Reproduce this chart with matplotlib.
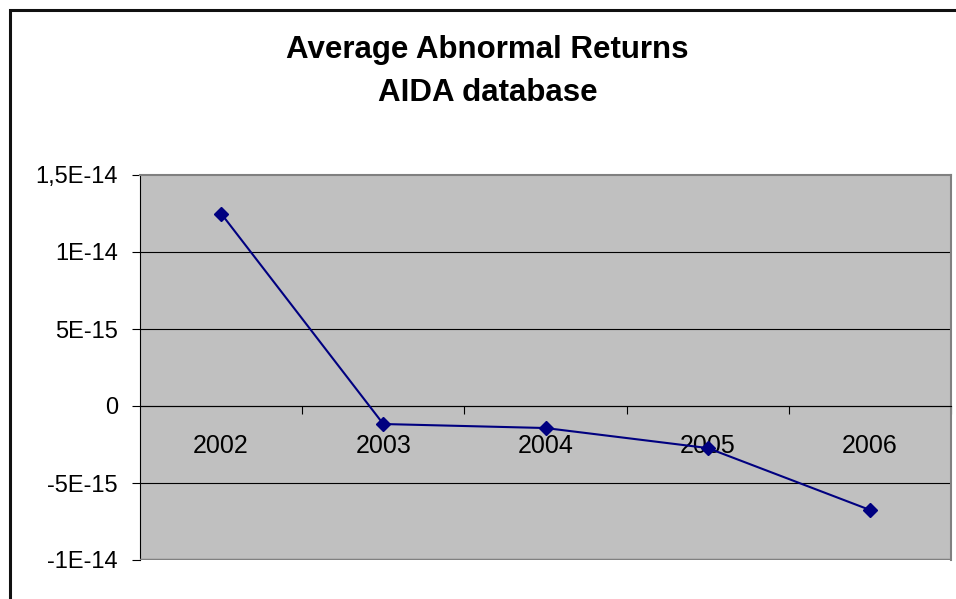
"""Line chart of yearly average abnormal returns (AIDA database)."""

import matplotlib.pyplot as plt
from matplotlib.patches import Rectangle

plt.rcParams["font.family"] = ["Liberation Sans", "DejaVu Sans"]

years = ["2002", "2003", "2004", "2005", "2006"]
avg_abnormal_returns = [1.25e-14, -1.17e-15, -1.43e-15, -2.73e-15, -6.75e-15]

y_ticks = [-1e-14, -5e-15, 0, 5e-15, 1e-14, 1.5e-14]
y_tick_labels = ["-1E-14", "-5E-15", "0", "5E-15", "1E-14", "1,5E-14"]

LINE_COLOR = "#000080"
PLOT_BG = "#c0c0c0"
BORDER_GRAY = "#808080"


def main() -> None:
    fig = plt.figure(figsize=(9.56, 5.99), dpi=100)
    fig.patch.set_facecolor("white")

    # chart frame, runs off the right and bottom edges
    fig.patches.append(
        Rectangle((9.8 / 956, -0.2), 1.3, 1.2 - 9.8 / 599, transform=fig.transFigure,
                  fill=False, edgecolor="#111111", linewidth=2.2, zorder=0)
    )

    ax = fig.add_axes([140 / 956, 39 / 599, 811 / 956, 385 / 599])
    ax.set_facecolor(PLOT_BG)

    positions = list(range(1, len(years) + 1))
    ax.plot(positions, avg_abnormal_returns, color=LINE_COLOR, linewidth=1.5,
            marker="D", markersize=7.2, markerfacecolor=LINE_COLOR,
            markeredgecolor=LINE_COLOR, zorder=4)

    ax.set_xlim(0.5, len(years) + 0.5)
    ax.set_ylim(y_ticks[0], y_ticks[-1])

    # horizontal gridlines at every value tick
    ax.set_yticks(y_ticks)
    ax.set_yticklabels(y_tick_labels, fontsize=17)
    ax.tick_params(axis="y", direction="out", length=6, width=0.8, pad=10, colors="black")
    for value in y_ticks[1:-1]:
        ax.axhline(value, color="black", linewidth=0.8, zorder=2)

    # category axis crosses at zero, with tick marks between categories
    ax.spines["bottom"].set_position(("data", 0))
    ax.spines["bottom"].set_color("black")
    ax.spines["bottom"].set_linewidth(0.8)
    ax.set_xticks(positions)
    ax.set_xticklabels(years, fontsize=18)
    ax.tick_params(axis="x", which="major", length=0, pad=20)
    ax.set_xticks([p + 0.5 for p in positions], minor=True)
    ax.tick_params(axis="x", which="minor", direction="out", length=6, width=0.8)

    ax.spines["left"].set_color("black")
    ax.spines["left"].set_linewidth(0.8)
    for side in ("top", "right"):
        ax.spines[side].set_color(BORDER_GRAY)
        ax.spines[side].set_linewidth(1.5)

    # bottom border of the plot area
    ax.axhline(y_ticks[0], color=BORDER_GRAY, linewidth=2.5, zorder=3)

    fig.text(487 / 956, 1 - 50 / 599, "Average Abnormal Returns", ha="center", va="center",
             fontsize=22.5, fontweight="bold")
    fig.text(488 / 956, 1 - 93 / 599, "AIDA database", ha="center", va="center",
             fontsize=22.5, fontweight="bold")

    fig.savefig("out.png", dpi=100)
    plt.close(fig)


if __name__ == "__main__":
    main()
